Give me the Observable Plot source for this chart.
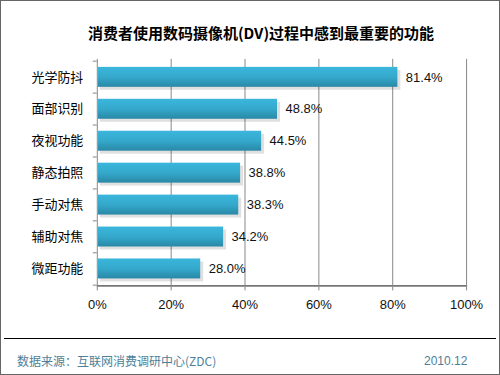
<!DOCTYPE html>
<html><head><meta charset="utf-8">
<script src="https://cdn.jsdelivr.net/npm/d3@7"></script>
<script src="https://cdn.jsdelivr.net/npm/@observablehq/plot@0.6"></script>
<style>
html,body{margin:0;padding:0;background:#fff;}
#frame{position:relative;width:500px;height:375px;box-sizing:border-box;border:1px solid #666;overflow:hidden;font-family:"Noto Sans CJK SC","Liberation Sans",sans-serif;}
#title{position:absolute;left:0;width:520px;top:20px;text-align:center;font-size:15px;font-weight:bold;color:#000;line-height:24px;}
#chart{position:absolute;left:-1px;top:-1px;}
#sep{position:absolute;left:3px;right:3px;top:337px;height:0;border-top:1px solid #000;}
#src{position:absolute;left:16px;top:351px;font-size:12px;color:#4d7f99;line-height:18px;}
#date{position:absolute;left:423px;top:351px;font-size:12px;color:#4d7f99;line-height:18px;font-family:"Liberation Sans",sans-serif;}
</style></head>
<body>
<div id="frame">
  <div id="title">消费者使用数码摄像机(DV)过程中感到最重要的功能</div>
  <div id="chart"></div>
  <div id="sep"></div>
  <div id="src">数据来源：互联网消费调研中心(ZDC)</div>
  <div id="date">2010.12</div>
</div>
<script>
const categories = ["光学防抖","面部识别","夜视功能","静态拍照","手动对焦","辅助对焦","微距功能"];
const values = [81.4, 48.8, 44.5, 38.8, 38.3, 34.2, 28.0];
const xTicks = [0, 20, 40, 60, 80, 100];

const data = categories.map((c, i) => ({category: c, value: values[i]}));
const H = 320, mTop = 59, mBottom = 34;
const step = (H - mTop - mBottom) / categories.length;

const plot = Plot.plot({
  width: 500,
  height: H,
  marginTop: mTop,
  marginBottom: mBottom,
  marginLeft: 97,
  marginRight: 33,
  style: {fontFamily: "'Liberation Sans', 'Noto Sans CJK SC', sans-serif", fontSize: "13px", color: "#111", background: "transparent"},
  x: {domain: [0, 100], ticks: xTicks, tickFormat: d => d + "%", tickSize: 5, tickPadding: 9, label: null, line: true},
  y: {domain: categories, paddingInner: 0.38, paddingOuter: 0.19, label: null, tickSize: 0, tickPadding: 14},
  marks: [
    Plot.ruleX(xTicks.filter(d => d > 0), {stroke: "#888", strokeOpacity: 1}),
    Plot.barX(data, {y: "category", x: "value", fill: "#000", fillOpacity: 0.12, dx: 3, dy: 3}),
    Plot.barX(data, {y: "category", x: "value", fill: "url(#barGrad)", insetLeft: 1}),
    Plot.ruleX([0], {stroke: "#888"}),
    Plot.ruleY(data, {y: "category", dy: -step / 2, x1: -1.1, x2: 0, stroke: "#888"}),
    Plot.ruleY(data.slice(-1), {y: "category", dy: step / 2, x1: -1.1, x2: 0, stroke: "#888"}),
    Plot.text(data, {y: "category", x: "value", text: d => d.value.toFixed(1) + "%", textAnchor: "start", dx: 8, fill: "#111", fontSize: 13})
  ]
});
document.getElementById("chart").appendChild(plot);

// gradient for bars
const ns = "http://www.w3.org/2000/svg";
const defs = document.createElementNS(ns, "defs");
defs.innerHTML = '<linearGradient id="barGrad" x1="0" y1="0" x2="0" y2="1">' +
  '<stop offset="0" stop-color="#3bb6dc"/><stop offset="0.5" stop-color="#34a9cc"/><stop offset="1" stop-color="#2a88a6"/></linearGradient>';
plot.insertBefore(defs, plot.firstChild);
// axis colours and y label font
plot.querySelectorAll("[aria-label='x-axis tick'], [aria-label='x-axis line']").forEach(g => g.setAttribute("stroke", "#888"));
plot.querySelectorAll("[aria-label='y-axis tick label'] text").forEach(t => { t.style.fontFamily = "'Noto Sans CJK SC', sans-serif"; t.style.fontSize = "13px"; t.setAttribute("fill", "#000"); });
</script>
</body></html>
